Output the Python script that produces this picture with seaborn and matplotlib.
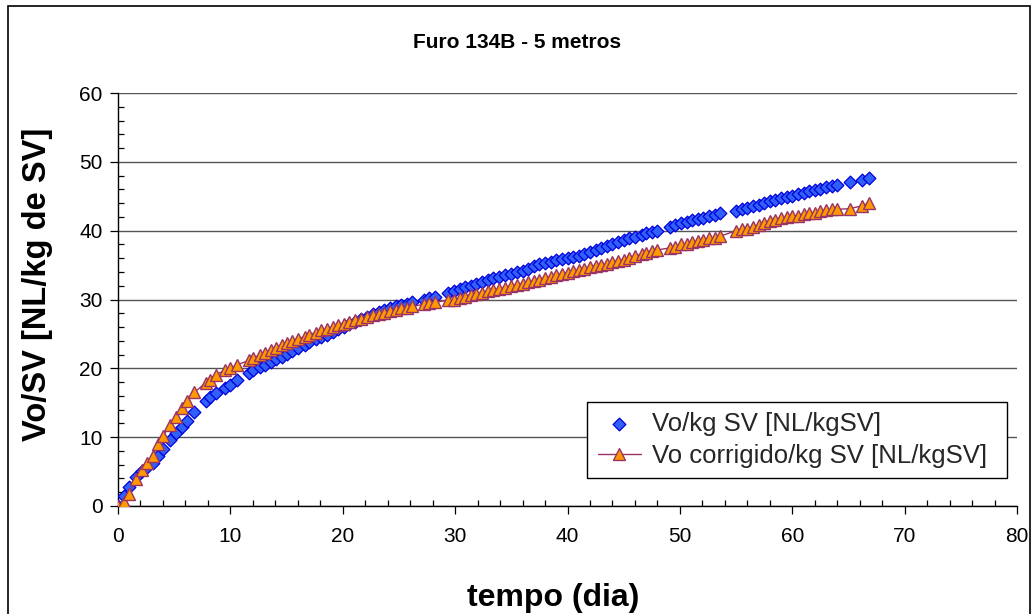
import matplotlib
matplotlib.use("Agg")
import matplotlib.pyplot as plt
import numpy as np
import pandas as pd
import seaborn as sns
from matplotlib.ticker import MultipleLocator
from matplotlib.patches import Rectangle

# ---------------- data ----------------
title = "Furo 134B - 5 metros"
xlabel = "tempo (dia)"
ylabel = "Vo/SV [NL/kg de SV]"
label_vo = "Vo/kg SV [NL/kgSV]"
label_corr = "Vo corrigido/kg SV [NL/kgSV]"

days = [0, 0.5, 1.0, 1.6, 2.1, 2.6, 3.1, 3.6, 4.0, 4.6, 5.2, 5.7, 6.1, 6.8, 7.8, 8.2,
        8.7, 9.5, 10.0, 10.6, 11.7, 12.0, 12.6, 13.1, 13.6, 14.1, 14.6, 15.0, 15.5,
        16.0, 16.6, 17.0, 17.6, 18.1, 18.6, 19.1, 19.6, 20.1, 20.6, 21.1, 21.6, 22.2,
        22.7, 23.2, 23.7, 24.2, 24.7, 25.2, 25.7, 26.2, 27.2, 27.7, 28.2, 29.4, 29.9,
        30.4, 30.9, 31.4, 31.9, 32.4, 32.9, 33.4, 33.9, 34.4, 35.0, 35.5, 36.0, 36.5,
        37.0, 37.5, 38.0, 38.5, 39.0, 39.5, 40.0, 40.5, 41.0, 41.5, 42.0, 42.5, 43.0,
        43.5, 44.0, 44.5, 45.0, 45.5, 46.0, 46.6, 47.0, 47.5, 48.0, 49.1, 49.6, 50.1,
        50.6, 51.1, 51.6, 52.1, 52.6, 53.1, 53.6, 55.0, 55.5, 56.0, 56.5, 57.0, 57.5,
        58.0, 58.5, 59.0, 59.5, 60.0, 60.5, 61.0, 61.5, 62.0, 62.5, 63.0, 63.5, 64.0,
        65.1, 66.2, 66.8]

vo = [0.0, 1.5, 2.8, 4.2, 5.1, 5.7, 6.3, 7.3, 8.3, 9.6, 10.6, 11.5, 12.3, 13.7, 15.2, 15.8,
      16.4, 17.1, 17.6, 18.3, 19.3, 19.8, 20.2, 20.5, 20.9, 21.3, 21.7, 22.1, 22.5,
      22.9, 23.4, 23.8, 24.2, 24.6, 24.9, 25.3, 25.7, 26.0, 26.4, 26.8, 27.1, 27.5,
      27.9, 28.2, 28.5, 28.8, 29.0, 29.2, 29.4, 29.6, 29.9, 30.2, 30.4, 31.0, 31.2,
      31.5, 31.8, 32.0, 32.3, 32.5, 32.8, 33.1, 33.3, 33.5, 33.7, 34.0, 34.2, 34.5,
      34.8, 35.1, 35.3, 35.5, 35.7, 35.9, 36.1, 36.2, 36.3, 36.6, 36.9, 37.2, 37.5,
      37.8, 38.0, 38.3, 38.6, 38.9, 39.1, 39.4, 39.6, 39.8, 40.0, 40.5, 40.8, 41.1,
      41.3, 41.5, 41.7, 41.9, 42.1, 42.3, 42.5, 42.9, 43.1, 43.3, 43.6, 43.8, 44.0,
      44.3, 44.5, 44.7, 44.9, 45.1, 45.3, 45.5, 45.7, 45.9, 46.1, 46.3, 46.5, 46.6,
      47.1, 47.4, 47.7]

vo_corr = [0.0, 0.6, 1.8, 3.9, 5.2, 6.3, 7.3, 9.0, 10.1, 11.8, 13.0, 14.3, 15.3, 16.5, 17.9, 18.3,
           19.1, 19.7, 20.0, 20.5, 21.2, 21.5, 21.9, 22.3, 22.7, 23.0, 23.4, 23.7, 24.0,
           24.3, 24.6, 24.9, 25.2, 25.5, 25.7, 26.0, 26.3, 26.5, 26.8, 27.0, 27.2, 27.5,
           27.7, 27.9, 28.1, 28.3, 28.5, 28.7, 28.8, 29.0, 29.3, 29.5, 29.6, 29.9, 30.0,
           30.2, 30.4, 30.6, 30.8, 31.0, 31.2, 31.4, 31.5, 31.7, 31.9, 32.1, 32.3, 32.5,
           32.7, 32.9, 33.1, 33.3, 33.5, 33.7, 33.9, 34.1, 34.3, 34.5, 34.7, 34.9, 35.0,
           35.2, 35.4, 35.6, 35.8, 36.0, 36.3, 36.6, 36.8, 37.0, 37.2, 37.5, 37.7, 38.0,
           38.1, 38.3, 38.5, 38.7, 38.9, 39.0, 39.2, 40.0, 40.2, 40.3, 40.5, 40.8, 41.1,
           41.4, 41.6, 41.8, 42.0, 42.1, 42.2, 42.4, 42.5, 42.6, 42.8, 43.0, 43.1, 43.1,
           43.2, 43.6, 44.0]

df = pd.DataFrame({"dia": days, "vo": vo, "vo_corr": vo_corr})

# ---------------- style ----------------
sns.set_theme(style="white")
plt.rcParams["font.family"] = ["Liberation Sans", "DejaVu Sans"]

fig = plt.figure(figsize=(10.34, 6.14), dpi=100)
ax = fig.add_axes([0.1141, 0.1759, 0.8695, 0.6726])

sns.scatterplot(data=df, x="dia", y="vo", marker="D", s=42, color="#3060F8",
                edgecolor="#0000DD", linewidth=0.9, label=label_vo, ax=ax, zorder=3)
sns.lineplot(data=df, x="dia", y="vo_corr", marker="^", markersize=8,
             color="#993366", markerfacecolor="#FF9900", markeredgecolor="#993366",
             markeredgewidth=1.0, linewidth=1.0, sort=False, estimator=None,
             label=label_corr, ax=ax, zorder=4)

ax.set_xlim(0, 80)
ax.set_ylim(0, 60)
ax.xaxis.set_major_locator(MultipleLocator(10))
ax.xaxis.set_minor_locator(MultipleLocator(2))
ax.yaxis.set_major_locator(MultipleLocator(10))
ax.yaxis.set_minor_locator(MultipleLocator(2))

ax.yaxis.grid(True, which="major", color="#555555", linewidth=1.0)
ax.xaxis.grid(False)
ax.set_axisbelow(True)

for s in ["top", "right"]:
    ax.spines[s].set_visible(False)
for s in ["left", "bottom"]:
    ax.spines[s].set_color("black")
    ax.spines[s].set_linewidth(1.0)

ax.tick_params(which="major", direction="out", length=6, width=0.9, color="black",
               labelsize=15, labelcolor="black")
ax.tick_params(axis="x", which="major", pad=9)
ax.tick_params(axis="y", which="major", pad=5)
ax.tick_params(which="minor", direction="in", length=4, width=0.9, color="black")
ax.tick_params(which="both", bottom=True, left=True)

ax.set_xlabel("")
ax.set_ylabel("")
fig.text(0.535, 1 - 598 / 614, xlabel, ha="center", va="center", fontsize=23,
         fontweight="bold", color="black")
fig.text(0.036, 1 - 284 / 614, ylabel, ha="center", va="center", rotation=90,
         fontsize=23.5, fontweight="bold", color="black")
fig.text(0.5, 1 - 42 / 614, title, ha="center", va="center", fontsize=15,
         fontweight="bold", color="black")

handles, labels = ax.get_legend_handles_labels()
leg = ax.legend(handles, labels, loc="lower left",
                bbox_to_anchor=(0.522, 0.068, 0.467, 0.186), mode="expand",
                fontsize=18.5, frameon=True, fancybox=False, framealpha=1,
                edgecolor="black", borderaxespad=0, handlelength=1.7,
                handletextpad=0.4, labelspacing=0.3, borderpad=0.4)
leg.get_frame().set_linewidth(1.0)

fig.patches.append(Rectangle((0.0077, -0.01), 0.9884, 1.0, transform=fig.transFigure,
                             fill=False, edgecolor="black", linewidth=1.2))

fig.savefig("out.png", dpi=100)
